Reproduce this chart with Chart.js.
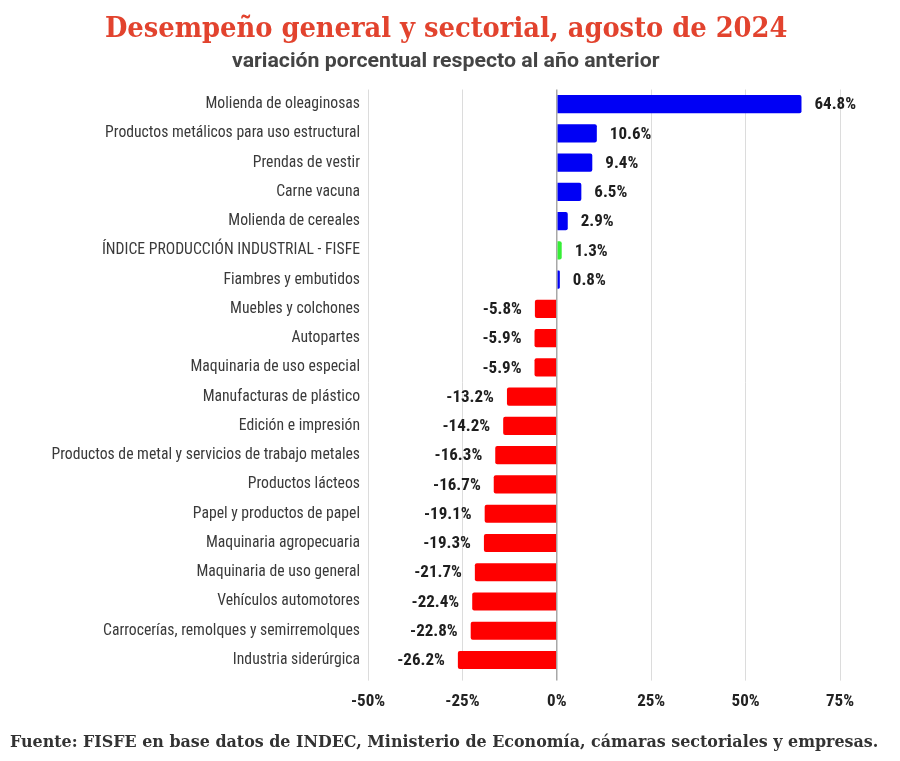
<!DOCTYPE html>
<html>
<head>
<meta charset="utf-8">
<script src="https://cdn.jsdelivr.net/npm/chart.js@4.4.1/dist/chart.umd.min.js"></script>
<style>
  html,body{margin:0;padding:0;background:#fff;}
  #wrap{position:relative;width:900px;height:761px;overflow:hidden;}
  #c{position:absolute;left:0;top:0;}
  .txt{position:absolute;white-space:nowrap;transform-origin:0 50%;line-height:1;}
  #title{font-family:"DejaVu Serif Condensed","DejaVu Serif",serif;font-weight:bold;font-size:28px;color:#e2432e;}
  #subtitle{font-family:"Liberation Sans Narrow","Roboto",sans-serif;font-weight:bold;font-size:20px;color:#444;}
  #footer{font-family:"DejaVu Serif Condensed","DejaVu Serif",serif;font-weight:bold;font-size:16px;color:#333;}
</style>
</head>
<body>
<div id="wrap">
  <canvas id="c" width="900" height="761"></canvas>
  <div id="title" class="txt">Desempeño general y sectorial, agosto de 2024</div>
  <div id="subtitle" class="txt">variación porcentual respecto al año anterior</div>
  <div id="footer" class="txt">Fuente: FISFE en base datos de INDEC, Ministerio de Economía, cámaras sectoriales y empresas.</div>
</div>
<script>
const categories = [
  "Molienda de oleaginosas",
  "Productos metálicos para uso estructural",
  "Prendas de vestir",
  "Carne vacuna",
  "Molienda de cereales",
  "ÍNDICE PRODUCCIÓN INDUSTRIAL - FISFE",
  "Fiambres y embutidos",
  "Muebles y colchones",
  "Autopartes",
  "Maquinaria de uso especial",
  "Manufacturas de plástico",
  "Edición e impresión",
  "Productos de metal y servicios de trabajo metales",
  "Productos lácteos",
  "Papel y productos de papel",
  "Maquinaria agropecuaria",
  "Maquinaria de uso general",
  "Vehículos automotores",
  "Carrocerías, remolques y semirremolques",
  "Industria siderúrgica"
];
const values = [64.8, 10.6, 9.4, 6.5, 2.9, 1.3, 0.8, -5.8, -5.9, -5.9, -13.2, -14.2, -16.3, -16.7, -19.1, -19.3, -21.7, -22.4, -22.8, -26.2];
const indexLabel = "ÍNDICE PRODUCCIÓN INDUSTRIAL - FISFE";
const tickValues = [-50, -25, 0, 25, 50, 75];

// place & fit HTML texts (offsetWidth ignores transforms)
function placeText(id, left, right, centerY){
  const el = document.getElementById(id);
  const w = el.offsetWidth;
  const h = el.offsetHeight;
  const s = (right - left) / w;
  el.style.left = left + 'px';
  el.style.top = (centerY - h/2) + 'px';
  el.style.transform = 'scaleX(' + s + ')';
}

const NARROW = '"Liberation Sans Narrow", "Roboto Condensed", "Arial Narrow", sans-serif';

const barColors = categories.map((c, i) =>
  c === indexLabel ? '#36ee36' : (values[i] >= 0 ? '#0000f5' : '#ff0000'));

const valueLabels = {
  id: 'valueLabels',
  afterDatasetsDraw(chart){
    const ctx = chart.ctx;
    const meta = chart.getDatasetMeta(0);
    ctx.save();
    ctx.font = 'bold 17px ' + NARROW;
    ctx.fillStyle = '#1e1e1e';
    ctx.textBaseline = 'middle';
    meta.data.forEach((bar, i) => {
      const v = values[i];
      const txt = v.toFixed(1) + '%';
      if (v >= 0){
        ctx.textAlign = 'left';
        ctx.fillText(txt, bar.x + 13, bar.y + 1);
      } else {
        ctx.textAlign = 'right';
        ctx.fillText(txt, bar.x - 13, bar.y + 1);
      }
    });
    ctx.restore();
  }
};

new Chart(document.getElementById('c'), {
  type: 'bar',
  data: {
    labels: categories,
    datasets: [{
      data: values,
      backgroundColor: barColors,
      borderRadius: 2,
      borderSkipped: 'start',
      barPercentage: 0.62,
      categoryPercentage: 1.0
    }]
  },
  options: {
    indexAxis: 'y',
    responsive: false,
    animation: false,
    devicePixelRatio: 1,
    layout: { padding: { top: 89.5, right: 60, bottom: 40, left: 0 } },
    plugins: { legend: { display: false }, tooltip: { enabled: false }, title: { display: false } },
    scales: {
      x: {
        min: -50, max: 75,
        afterBuildTicks(scale){ scale.ticks = tickValues.map(v => ({ value: v })); },
        afterFit(scale){ scale.height = 46.4; },
        border: { display: false },
        grid: {
          color: ctx => (ctx.tick && ctx.tick.value === 0) ? '#a8a8a8' : '#dcdcdc',
          lineWidth: ctx => (ctx.tick && ctx.tick.value === 0) ? 1.5 : 1,
          tickLength: 6,
          drawTicks: true
        },
        ticks: {
          padding: 11,
          color: '#222',
          font: { family: NARROW, weight: 'bold', size: 17 },
          callback: v => v + '%'
        }
      },
      y: {
        afterFit(scale){ scale.width = 368; },
        border: { display: false },
        grid: { display: false, drawTicks: false },
        ticks: {
          padding: 8,
          color: '#3a3a3a',
          font: { family: NARROW, size: 15.7 },
          autoSkip: false
        }
      }
    }
  },
  plugins: [valueLabels]
});

function placeAll(){
  placeText('title', 105, 787, 28);
  placeText('subtitle', 232, 660, 60);
  placeText('footer', 10, 878, 742);
}
placeAll();
document.fonts.ready.then(placeAll);
</script>
</body>
</html>
